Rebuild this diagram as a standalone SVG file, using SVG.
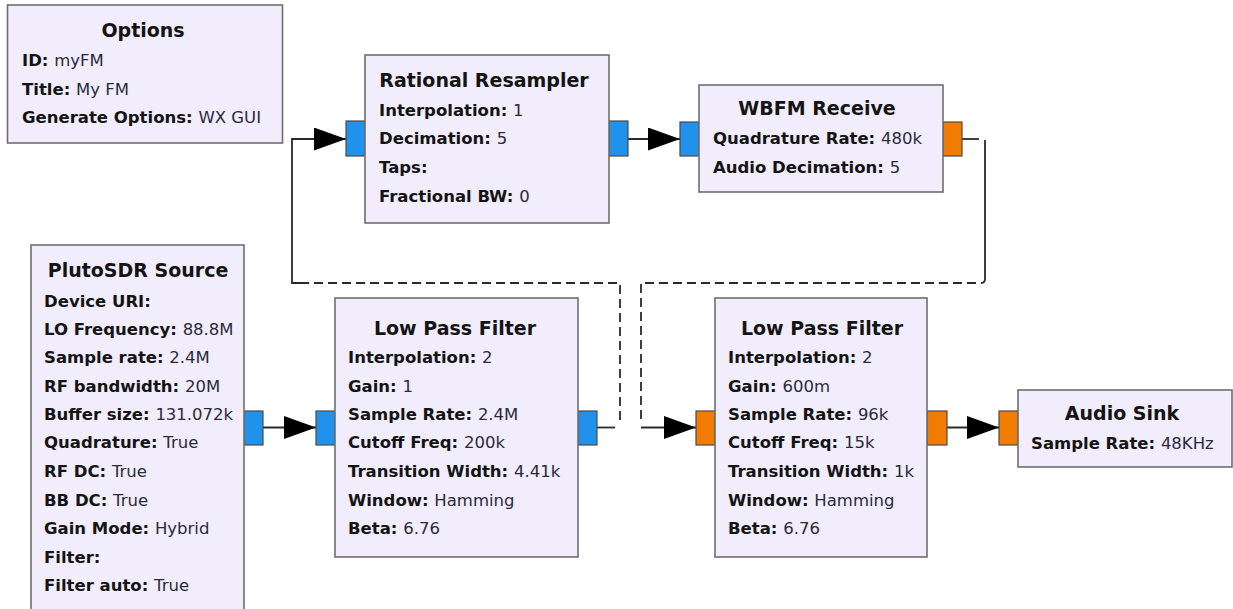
<svg xmlns="http://www.w3.org/2000/svg" width="1233" height="609" viewBox="0 0 1233 609">
<style>
.blk{fill:#f1edfd;stroke:#6e6e6e;stroke-width:1.6}
.pb{fill:#2192ec;stroke:#4a4a4a;stroke-width:1.2}
.po{fill:#f27c00;stroke:#4a4a4a;stroke-width:1.2}
text{font-family:"DejaVu Sans","Verdana",sans-serif;fill:#141414}
.t{font-size:19px;font-weight:bold;text-anchor:middle}
.b{font-size:16.5px;font-weight:bold}
.v{font-weight:normal;fill:#2a2a3a}
.c{fill:none;stroke:#2a2a2a;stroke-width:1.8}
.d{stroke-dasharray:9 5}
</style>
<defs>
<marker id="ah" markerUnits="userSpaceOnUse" markerWidth="34" markerHeight="25" refX="32" refY="11.5" orient="auto">
<path d="M0,0 L32,11.5 L0,23 Z" fill="#000"/>
</marker>
</defs>
<rect width="1233" height="609" fill="#fff"/>

<g id="connectors">
<path class="c" d="M263,427.5 H316" marker-end="url(#ah)"/>
<path class="c" d="M597,427.5 H615"/>
<path class="c d" d="M620,420 V283 H300"/>
<path class="c" d="M304,283 H292 V139 H346" marker-end="url(#ah)"/>
<path class="c" d="M628,139 H680" marker-end="url(#ah)"/>
<path class="c" d="M962,139 H979"/>
<path class="c" d="M985,140 V279 Q985,283 981,283"/>
<path class="c d" d="M976,283 H641 V420"/>
<path class="c" d="M641,427.5 H696" marker-end="url(#ah)"/>
<path class="c" d="M947,427.5 H999" marker-end="url(#ah)"/>
</g>

<g id="options">
<rect class="blk" x="7.5" y="5" width="275" height="138"/>
<text class="t" x="143" y="37">Options</text>
<text class="b" x="22" y="66">ID: <tspan class="v">myFM</tspan></text>
<text class="b" x="22" y="95">Title: <tspan class="v">My FM</tspan></text>
<text class="b" x="22" y="123">Generate Options: <tspan class="v">WX GUI</tspan></text>
</g>

<g id="rational_resampler">
<rect class="pb" x="346" y="121" width="19" height="35"/>
<rect class="pb" x="609" y="121" width="19" height="35"/>
<rect class="blk" x="365" y="55" width="244" height="168"/>
<text class="t" x="484" y="87">Rational Resampler</text>
<text class="b" x="379" y="116">Interpolation: <tspan class="v">1</tspan></text>
<text class="b" x="379" y="144">Decimation: <tspan class="v">5</tspan></text>
<text class="b" x="379" y="173">Taps:</text>
<text class="b" x="379" y="202">Fractional BW: <tspan class="v">0</tspan></text>
</g>

<g id="wbfm_receive">
<rect class="pb" x="680" y="122" width="19" height="34"/>
<rect class="po" x="943" y="122" width="19" height="34"/>
<rect class="blk" x="699" y="85" width="244" height="107"/>
<text class="t" x="817" y="115">WBFM Receive</text>
<text class="b" x="713" y="144">Quadrature Rate: <tspan class="v">480k</tspan></text>
<text class="b" x="713" y="173">Audio Decimation: <tspan class="v">5</tspan></text>
</g>

<g id="plutosdr_source">
<rect class="pb" x="244" y="411" width="19" height="34"/>
<rect class="blk" x="31" y="245" width="213" height="380"/>
<text class="t" x="138" y="277">PlutoSDR Source</text>
<text class="b" x="44" y="307">Device URI:</text>
<text class="b" x="44" y="335">LO Frequency: <tspan class="v">88.8M</tspan></text>
<text class="b" x="44" y="363">Sample rate: <tspan class="v">2.4M</tspan></text>
<text class="b" x="44" y="392">RF bandwidth: <tspan class="v">20M</tspan></text>
<text class="b" x="44" y="420">Buffer size: <tspan class="v">131.072k</tspan></text>
<text class="b" x="44" y="448">Quadrature: <tspan class="v">True</tspan></text>
<text class="b" x="44" y="477">RF DC: <tspan class="v">True</tspan></text>
<text class="b" x="44" y="506">BB DC: <tspan class="v">True</tspan></text>
<text class="b" x="44" y="534">Gain Mode: <tspan class="v">Hybrid</tspan></text>
<text class="b" x="44" y="563">Filter:</text>
<text class="b" x="44" y="591">Filter auto: <tspan class="v">True</tspan></text>
</g>

<g id="low_pass_filter_1">
<rect class="pb" x="316" y="411" width="19" height="34"/>
<rect class="pb" x="578" y="411" width="19" height="34"/>
<rect class="blk" x="335" y="298" width="243" height="259"/>
<text class="t" x="455" y="335">Low Pass Filter</text>
<text class="b" x="348" y="363">Interpolation: <tspan class="v">2</tspan></text>
<text class="b" x="348" y="392">Gain: <tspan class="v">1</tspan></text>
<text class="b" x="348" y="420">Sample Rate: <tspan class="v">2.4M</tspan></text>
<text class="b" x="348" y="448">Cutoff Freq: <tspan class="v">200k</tspan></text>
<text class="b" x="348" y="477">Transition Width: <tspan class="v">4.41k</tspan></text>
<text class="b" x="348" y="506">Window: <tspan class="v">Hamming</tspan></text>
<text class="b" x="348" y="534">Beta: <tspan class="v">6.76</tspan></text>
</g>

<g id="low_pass_filter_2">
<rect class="po" x="696" y="411" width="19" height="34"/>
<rect class="po" x="927" y="411" width="20" height="34"/>
<rect class="blk" x="715" y="298" width="212" height="259"/>
<text class="t" x="822" y="335">Low Pass Filter</text>
<text class="b" x="728" y="363">Interpolation: <tspan class="v">2</tspan></text>
<text class="b" x="728" y="392">Gain: <tspan class="v">600m</tspan></text>
<text class="b" x="728" y="420">Sample Rate: <tspan class="v">96k</tspan></text>
<text class="b" x="728" y="448">Cutoff Freq: <tspan class="v">15k</tspan></text>
<text class="b" x="728" y="477">Transition Width: <tspan class="v">1k</tspan></text>
<text class="b" x="728" y="506">Window: <tspan class="v">Hamming</tspan></text>
<text class="b" x="728" y="534">Beta: <tspan class="v">6.76</tspan></text>
</g>

<g id="audio_sink">
<rect class="po" x="999" y="411" width="19" height="34"/>
<rect class="blk" x="1018" y="390" width="214" height="77"/>
<text class="t" x="1122" y="420">Audio Sink</text>
<text class="b" x="1031" y="449">Sample Rate: <tspan class="v">48KHz</tspan></text>
</g>
</svg>
